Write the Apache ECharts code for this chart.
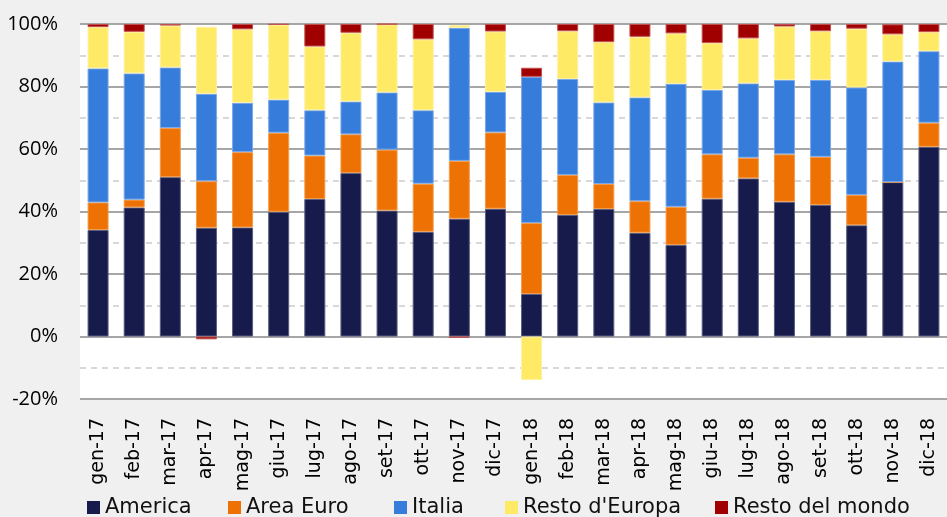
<!DOCTYPE html>
<html>
<head>
<meta charset="utf-8">
<script src="https://cdn.jsdelivr.net/npm/echarts@6/dist/echarts.min.js"></script>
<style>
  html, body { margin: 0; padding: 0; background: #f0f0f0; }
  #chart { width: 947px; height: 517px; }
</style>
</head>
<body>
<div id="chart"></div>
<script>
// Monthly composition by geographic area (% of total)
const categories = ['gen-17','feb-17','mar-17','apr-17','mag-17','giu-17','lug-17','ago-17','set-17','ott-17','nov-17','dic-17',
                    'gen-18','feb-18','mar-18','apr-18','mag-18','giu-18','lug-18','ago-18','set-18','ott-18','nov-18','dic-18'];

const america     = [34.1, 41.3, 51.0, 34.8, 34.9, 39.9, 44.0, 52.3, 40.3, 33.5, 37.7, 40.9, 13.6, 38.9, 40.8, 33.2, 29.3, 44.1, 50.6, 43.1, 42.1, 35.6, 49.4, 60.7];
const areaEuro    = [ 8.8,  2.5, 15.7, 14.9, 24.1, 25.3, 13.9, 12.4, 19.5, 15.4, 18.5, 24.4, 22.7, 12.8,  8.0, 10.1, 12.2, 14.2,  6.6, 15.2, 15.4,  9.7,  0.0,  7.7];
const italia      = [42.9, 40.4, 19.4, 28.0, 15.8, 10.6, 14.5, 10.5, 18.3, 23.5, 42.6, 13.0, 46.8, 30.7, 26.1, 33.2, 39.4, 20.6, 23.8, 23.8, 24.6, 34.4, 38.6, 22.9];
const restoEuropa = [13.2, 13.3, 13.4, 21.4, 23.5, 24.0, 20.4, 22.0, 21.8, 22.7,  0.8, 19.3,-13.9, 15.3, 19.3, 19.4, 16.1, 15.0, 14.4, 17.1, 15.6, 18.8,  8.7,  6.1];
const restoMondo  = [ 1.0,  2.5,  0.5, -0.9,  1.7,  0.2,  7.2,  2.8,  0.1,  4.9, -0.4,  2.4,  2.9,  2.3,  5.8,  4.1,  3.0,  6.1,  4.6,  0.8,  2.3,  1.5,  3.2,  2.6];

const yTicks = { min: -20, max: 100, interval: 20 };

const seriesDefs = [
  { name: 'America',         data: america,     color: '#161b4b', border: '#5a5e80' },
  { name: 'Area Euro',       data: areaEuro,    color: '#ee7203', border: '#f39a4a' },
  { name: 'Italia',          data: italia,      color: '#367cda', border: '#7aa8e8' },
  { name: "Resto d'Europa",  data: restoEuropa, color: '#ffea66', border: '#fff0a0' },
  { name: 'Resto del mondo', data: restoMondo,  color: '#a00000', border: '#c05050' }
];

// legend entries are placed one by one along the bottom row
const legendLeft = [82, 223, 389, 500, 710];

const chart = echarts.init(document.getElementById('chart'), null, { renderer: 'canvas' });

chart.setOption({
  backgroundColor: '#f0f0f0',
  animation: false,
  grid: {
    left: 80, top: 24, width: 879, height: 375,
    show: true, backgroundColor: '#ffffff', borderWidth: 0
  },
  legend: seriesDefs.map((s, i) => ({
    left: legendLeft[i], top: 492,
    itemWidth: 13, itemHeight: 13,
    icon: 'rect',
    selectedMode: false,
    itemStyle: { borderWidth: 0 },
    textStyle: { fontFamily: 'DejaVu Sans', fontSize: 21, color: '#111111' },
    data: [s.name]
  })),
  xAxis: {
    type: 'category',
    data: categories,
    position: 'bottom',
    axisLine: { show: false, onZero: false },
    axisTick: { show: false },
    axisLabel: {
      rotate: 90, margin: 19, interval: 0,
      fontFamily: 'DejaVu Sans', fontSize: 19, color: '#000000'
    }
  },
  yAxis: {
    type: 'value',
    min: yTicks.min, max: yTicks.max, interval: yTicks.interval,
    axisLine: { show: false },
    axisTick: { show: false },
    axisLabel: {
      formatter: '{value}%', margin: 22,
      fontFamily: 'Open Sans', fontSize: 20, color: '#000000'
    },
    splitLine: { show: true, lineStyle: { color: '#a6a6a6', width: 2 } },
    minorTick: { show: false, splitNumber: 2 },
    minorSplitLine: { show: true, lineStyle: { color: '#cccccc', width: 1.5, type: [6, 5] } }
  },
  series: seriesDefs.map(s => ({
    name: s.name,
    type: 'bar',
    stack: 'total',
    barWidth: 21,
    data: s.data,
    itemStyle: { color: s.color, borderColor: s.border, borderWidth: 1 },
    emphasis: { disabled: true }
  }))
});
</script>
</body>
</html>
